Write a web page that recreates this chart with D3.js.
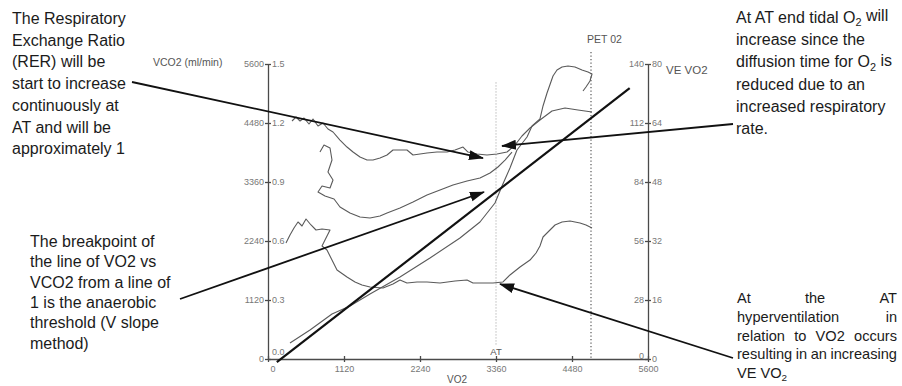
<!DOCTYPE html>
<html>
<head>
<meta charset="utf-8">
<script src="https://cdn.jsdelivr.net/npm/d3@7"></script>
<style>
  body { margin: 0; background: #fff; }
  svg { display: block; font-family: "Liberation Sans", Arial, sans-serif; }
  .axis path, .axis line { stroke: #4a4a4a; stroke-width: 1.3; }
  .axis text { fill: #777; font-size: 9px; font-family: "Liberation Sans", Arial, sans-serif; }
</style>
</head>
<body>
<svg id="chart" width="902" height="386"></svg>
<script>
// tick values / labels
const vo2Ticks = [0, 1120, 2240, 3360, 4480, 5600];
const vco2Ticks = [0, 1120, 2240, 3360, 4480, 5600];
const rerLabels = ['0.0', '0.3', '0.6', '0.9', '1.2', '1.5'];
const petTicks = [0, 28, 56, 84, 112, 140];
const veLabels = ['0', '16', '32', '48', '64', '80'];

const atVO2 = 3360;
const petO2VO2 = 4760;
const atSpan = [250, 5250];
const petSpan = [0, 5830];

// line of 1 (VCO2 = VO2 shifted)
const unityLine = [[130, -60], [5330, 5140]];

// traced curves, [VO2, value on VCO2 scale]
const vco2Curve = [[324,304],[619,550],[943,854],[1208,1006],[1503,1234],[1945,1557],[2387,1917],
  [2829,2297],[3124,2601],[3345,2961],[3449,3284],[3566,3626],[3669,3967],[3817,4214],[3891,4423],
  [4008,4556],[4053,4803],[4112,5049],[4200,5372],[4259,5486],[4333,5543],[4421,5562],[4524,5543],
  [4627,5486],[4716,5448],[4775,5410],[4745,5277],[4686,5163],[4642,5087]];

const rerCurve = [[354,4518],[413,4594],[472,4518],[531,4575],[604,4461],[663,4556],[737,4423],
  [811,4480],[884,4366],[958,4309],[1061,4157],[1164,4024],[1253,3929],[1356,3834],[1459,3777],
  [1547,3777],[1651,3815],[1754,3872],[1842,3967],[1945,3967],[2048,3967],[2137,3872],[2240,3891],
  [2343,3910],[2490,3929],[2638,3929],[2756,3967],[2874,4024],[2947,3929],[3080,3891],[3227,3872],
  [3375,3891],[3522,3929],[3640,4062],[3743,4233],[3861,4385],[4008,4537],[4185,4708],[4377,4765],
  [4568,4727],[4775,4689]];

const petO2Curve = [[766,3929],[825,4062],[914,4005],[943,3777],[884,3550],[958,3398],[914,3246],
  [796,3284],[737,3170],[840,3094],[973,3037],[1061,2885],[1208,2771],[1356,2696],[1503,2677],
  [1651,2715],[1754,2771],[1945,2866],[2137,2980],[2343,3113],[2535,3208],[2726,3303],[2933,3379],
  [3124,3436],[3272,3531],[3389,3645],[3493,3777],[3596,3929]];

const veVO2Curve = [[265,2202],[324,2354],[383,2487],[442,2601],[501,2525],[560,2658],[634,2544],
  [707,2449],[796,2468],[914,2449],[840,2259],[796,2145],[869,2069],[943,1879],[1017,1689],
  [1164,1557],[1282,1462],[1385,1405],[1503,1367],[1695,1348],[1842,1424],[1945,1500],[2048,1443],
  [2196,1462],[2343,1462],[2535,1443],[2756,1481],[2933,1500],[3021,1443],[3168,1443],[3316,1443],
  [3463,1462],[3566,1595],[3714,1746],[3861,1879],[3950,2012],[4008,2145],[4053,2316],[4156,2449],
  [4230,2544],[4333,2601],[4451,2620],[4598,2582],[4686,2544],[4775,2487]];

// annotation texts ("_2" = subscript 2)
const rerNote = ['The Respiratory', 'Exchange Ratio', '(RER) will be', 'start to increase',
  'continuously at', 'AT and will be', 'approximately 1'];
const slopeNote = ['The breakpoint of', 'the line of VO2 vs', 'VCO2 from a line of',
  '1 is the anaerobic', 'threshold (V slope', 'method)'];
const petNote = ['At AT end tidal O_2 will', 'increase since the', 'diffusion time for O_2 is',
  'reduced due to an', 'increased respiratory', 'rate.'];
const veNote = ['At the AT', 'hyperventilation in', 'relation to VO2 occurs',
  'resulting in an increasing', 'VE VO_2'];

// arrow tips, [VO2, VCO2-scale value]
const rerTip = [3168, 3815];
const slopeTip = [3183, 3170];
const petTip = [3449, 4043];
const veTip = [3419, 1424];

const svg = d3.select('#chart');
const x = d3.scaleLinear().domain([0, 5600]).range([268, 648]);
const y = d3.scaleLinear().domain([0, 5600]).range([359, 64]);
const yR = d3.scaleLinear().domain([0, 140]).range([359, 64]);
const fmt = d3.format('d');

svg.append('defs').append('marker')
  .attr('id', 'head')
  .attr('markerUnits', 'userSpaceOnUse')
  .attr('viewBox', '0 -6 16 12')
  .attr('refX', 14).attr('refY', 0)
  .attr('markerWidth', 16).attr('markerHeight', 12)
  .attr('orient', 'auto')
  .append('path').attr('d', 'M0,-5L15,0L0,5Z').attr('fill', '#111');

// dotted markers (AT and PET O2)
svg.append('line')
  .attr('x1', x(atVO2)).attr('x2', x(atVO2))
  .attr('y1', y(atSpan[1])).attr('y2', y(atSpan[0]))
  .attr('stroke', '#9a9a9a').attr('stroke-width', 1).attr('stroke-dasharray', '1,2');
svg.append('line')
  .attr('x1', x(petO2VO2)).attr('x2', x(petO2VO2))
  .attr('y1', y(petSpan[1])).attr('y2', y(petSpan[0]))
  .attr('stroke', '#666').attr('stroke-width', 1.3).attr('stroke-dasharray', '1.3,2.2');

// axes
const leftAx = svg.append('g').attr('class', 'axis').attr('transform', `translate(${x(0)},0)`);
leftAx.call(d3.axisLeft(y).tickValues(vco2Ticks).tickSize(3).tickSizeOuter(0).tickPadding(1).tickFormat(fmt));
const leftIn = svg.append('g').attr('class', 'axis').attr('transform', `translate(${x(0)},0)`);
leftIn.call(d3.axisRight(y).tickValues(vco2Ticks).tickSize(3).tickSizeOuter(0).tickPadding(1)
  .tickFormat((d, i) => rerLabels[i]));
leftIn.select('.domain').remove();
leftIn.selectAll('.tick text').filter(d => d === 0).attr('dy', '-0.5em');

const rightAx = svg.append('g').attr('class', 'axis').attr('transform', `translate(${x(5600)},0)`);
rightAx.call(d3.axisLeft(yR).tickValues(petTicks).tickSize(3).tickSizeOuter(0).tickPadding(1).tickFormat(fmt));
rightAx.selectAll('.tick text').filter(d => d === 0).attr('dy', '-0.1em');
const rightIn = svg.append('g').attr('class', 'axis').attr('transform', `translate(${x(5600)},0)`);
rightIn.call(d3.axisRight(yR).tickValues(petTicks).tickSize(3).tickSizeOuter(0).tickPadding(1)
  .tickFormat((d, i) => veLabels[i]));
rightIn.select('.domain').remove();

const bottomAx = svg.append('g').attr('class', 'axis').attr('transform', `translate(0,${y(0)})`);
bottomAx.call(d3.axisBottom(x).tickValues(vo2Ticks).tickSize(3).tickSizeOuter(0).tickPadding(4).tickFormat(fmt));
bottomAx.selectAll('.tick line').attr('y1', -3);
bottomAx.selectAll('.tick text').filter(d => d === 0).attr('dx', '0.5em');

// axis titles
const titles = svg.append('g').attr('fill', '#555').attr('font-size', 10.5);
titles.append('text').attr('x', 153).attr('y', 66).text('VCO2 (ml/min)');
titles.append('text').attr('x', 587).attr('y', 43).text('PET 02');
titles.append('text').attr('x', 666).attr('y', 74).attr('font-size', 11.5).text('VE VO2');
titles.append('text').attr('x', 447).attr('y', 383).attr('font-size', 10).text('VO2');
titles.append('text').attr('x', x(atVO2)).attr('y', 355).attr('text-anchor', 'middle')
  .attr('font-size', 9.5).text('AT');

// traced curves
const line = d3.line().x(d => x(d[0])).y(d => y(d[1]));
[vco2Curve, rerCurve, petO2Curve, veVO2Curve].forEach(c => {
  svg.append('path').datum(c)
    .attr('d', line)
    .attr('fill', 'none')
    .attr('stroke', '#5a5a5a')
    .attr('stroke-width', 1.1)
    .attr('stroke-linejoin', 'round');
});

// line of 1
svg.append('path').datum(unityLine)
  .attr('d', line)
  .attr('fill', 'none')
  .attr('stroke', '#111')
  .attr('stroke-width', 2.2);

// text helpers
function rich(sel, str) {
  str.split(/(_\d)/).filter(s => s.length).forEach((part, i, arr) => {
    if (part[0] === '_') {
      sel.append('tspan').attr('font-size', '0.68em').attr('dy', '0.32em').text(part.slice(1));
    } else {
      const t = sel.append('tspan').text(part);
      if (i > 0 && arr[i - 1][0] === '_') t.attr('dy', '-0.32em');
    }
  });
}

function block(lines, x0, y0, step, size, width) {
  const g = svg.append('g').attr('font-size', size).attr('fill', '#1b1b1b');
  lines.forEach((ln, i) => {
    const yy = y0 + i * step;
    if (width && i < lines.length - 1) {
      const words = ln.split(' ');
      const nodes = words.map(w => {
        const t = g.append('text').attr('y', yy);
        rich(t, w);
        return t;
      });
      const lens = nodes.map(t => t.node().getComputedTextLength());
      const gap = words.length > 1 ? (width - d3.sum(lens)) / (words.length - 1) : 0;
      let cx = x0;
      nodes.forEach((t, k) => { t.attr('x', cx); cx += lens[k] + gap; });
    } else {
      const t = g.append('text').attr('x', x0).attr('y', yy);
      rich(t, ln);
    }
  });
}

block(rerNote, 12, 24, 21.7, 16);
block(slopeNote, 30, 247, 20.3, 16);
block(petNote, 736, 23, 22.2, 16);
block(veNote, 737, 303, 18.8, 14.6, 160);

// arrows
const arrows = [
  [[132, 82], rerTip],
  [[180, 299], slopeTip],
  [[733, 124], petTip],
  [[733, 358], veTip]
];
arrows.forEach(([from, tip]) => {
  svg.append('line')
    .attr('x1', from[0]).attr('y1', from[1])
    .attr('x2', x(tip[0])).attr('y2', y(tip[1]))
    .attr('stroke', '#111')
    .attr('stroke-width', 1.8)
    .attr('marker-end', 'url(#head)');
});
</script>
</body>
</html>
